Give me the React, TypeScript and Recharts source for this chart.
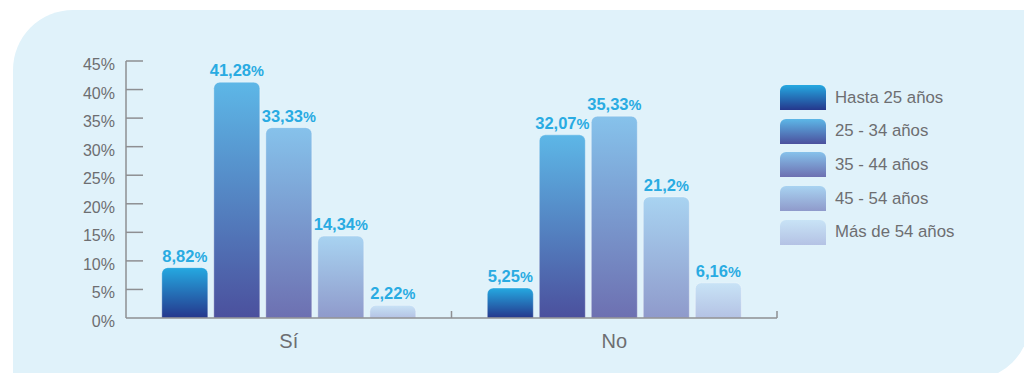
import React from "react";
import { BarChart, Bar, XAxis, YAxis, LabelList } from "recharts";

const categories = ["Sí", "No"];
const hasta25 = [8.82, 5.25];
const de25a34 = [41.28, 32.07];
const de35a44 = [33.33, 35.33];
const de45a54 = [14.34, 21.2];
const mas54 = [2.22, 6.16];
const yTicks = [0, 5, 10, 15, 20, 25, 30, 35, 40, 45];

const series = [
  { key: "hasta25", name: "Hasta 25 años", top: "#25a9e1", bottom: "#25378c" },
  { key: "de25a34", name: "25 - 34 años", top: "#5db7e7", bottom: "#4b509d" },
  { key: "de35a44", name: "35 - 44 años", top: "#86c2eb", bottom: "#6d70b1" },
  { key: "de45a54", name: "45 - 54 años", top: "#a8d3f1", bottom: "#8f9acb" },
  { key: "mas54", name: "Más de 54 años", top: "#c8e3f6", bottom: "#b4c2e4" },
];

const data = categories.map((c, i) => ({
  name: c,
  hasta25: hasta25[i],
  de25a34: de25a34[i],
  de35a44: de35a44[i],
  de45a54: de45a54[i],
  mas54: mas54[i],
}));

const FONT = "'Liberation Sans', Arial, Helvetica, sans-serif";
const GREY = "#6d6e71";
const AXIS = "#8e8f92";
const LABEL = "#29abe2";

const fmt = (v: number) => String(v).replace(".", ",");

const ValueLabel = (props: any) => {
  const { x, y, width, value } = props;
  return (
    <text
      x={x + width / 2}
      y={y - 6}
      textAnchor="middle"
      fill={LABEL}
      fontFamily={FONT}
    >
      <tspan fontSize={16.5} fontWeight="bold">{fmt(value)}</tspan>
      <tspan fontSize={14.5} fontWeight={600}>%</tspan>
    </text>
  );
};

const YTick = (props: any) => {
  const { x, y, payload } = props;
  return (
    <g>
      {payload.value !== 0 && (
        <line x1={x + 11} x2={x + 28} y1={y} y2={y} stroke={AXIS} strokeWidth={1.5} />
      )}
      <text x={x} y={y + 9} textAnchor="end" fill={GREY} fontSize={16} fontFamily={FONT}>
        {payload.value}%
      </text>
    </g>
  );
};

const XTick = (props: any) => {
  const { x, y, payload } = props;
  const half = payload.offset || 0;
  return (
    <g>
      <line x1={x + half} x2={x + half} y1={y} y2={y - 7} stroke={AXIS} strokeWidth={1.5} />
      <text x={x} y={y + 30} textAnchor="middle" fill={GREY} fontSize={20} fontFamily={FONT}>
        {payload.value}
      </text>
    </g>
  );
};

const ChartLegend = () => (
  <div style={{ position: "absolute", left: 780, top: 85, fontFamily: FONT }}>
    {series.map((s) => (
      <div key={s.key} style={{ display: "flex", alignItems: "center", height: 25, marginBottom: 8.7 }}>
        <div
          style={{
            width: 46,
            height: 25,
            borderRadius: "6px 6px 0 0",
            background: `linear-gradient(${s.top}, ${s.bottom})`,
            marginRight: 9,
          }}
        />
        <span style={{ fontSize: 16.8, color: GREY }}>{s.name}</span>
      </div>
    ))}
  </div>
);

export default function App() {
  return (
    <div style={{ position: "fixed", left: 0, top: 0, width: 1024, height: 373, background: "#fff", overflow: "hidden" }}>
      <div
        style={{
          position: "absolute",
          left: 13,
          top: 10,
          width: 1017,
          height: 370,
          background: "#e0f2fa",
          borderRadius: "60px 0 60px 0",
        }}
      />
      <div style={{ position: "absolute", left: 0, top: 0 }}>
        <BarChart
          width={1024}
          height={373}
          data={data}
          margin={{ top: 61, right: 247, bottom: 0, left: 56 }}
          barCategoryGap="11%"
          barGap={6}
        >
          <defs>
            {series.map((s) => (
              <linearGradient key={s.key} id={`grad-${s.key}`} x1="0" y1="0" x2="0" y2="1">
                <stop offset="0%" stopColor={s.top} />
                <stop offset="100%" stopColor={s.bottom} />
              </linearGradient>
            ))}
          </defs>
          <XAxis
            dataKey="name"
            height={55}
            tickLine={false}
            tickSize={0}
            tickMargin={0}
            axisLine={{ stroke: AXIS, strokeWidth: 1.5 }}
            tick={<XTick />}
            interval={0}
          />
          <YAxis
            width={70}
            domain={[0, 45]}
            ticks={yTicks}
            tickLine={false}
            tickSize={0}
            tickMargin={11}
            axisLine={{ stroke: AXIS, strokeWidth: 1.5 }}
            tick={<YTick />}
            interval={0}
          />
          {series.map((s) => (
            <Bar
              key={s.key}
              dataKey={s.key}
              name={s.name}
              fill={`url(#grad-${s.key})`}
              stroke="rgba(255,255,255,0.35)"
              strokeWidth={1}
              radius={[6, 6, 0, 0]}
              isAnimationActive={false}
            >
              <LabelList dataKey={s.key} content={<ValueLabel />} />
            </Bar>
          ))}
        </BarChart>
      </div>
      <ChartLegend />
    </div>
  );
}
